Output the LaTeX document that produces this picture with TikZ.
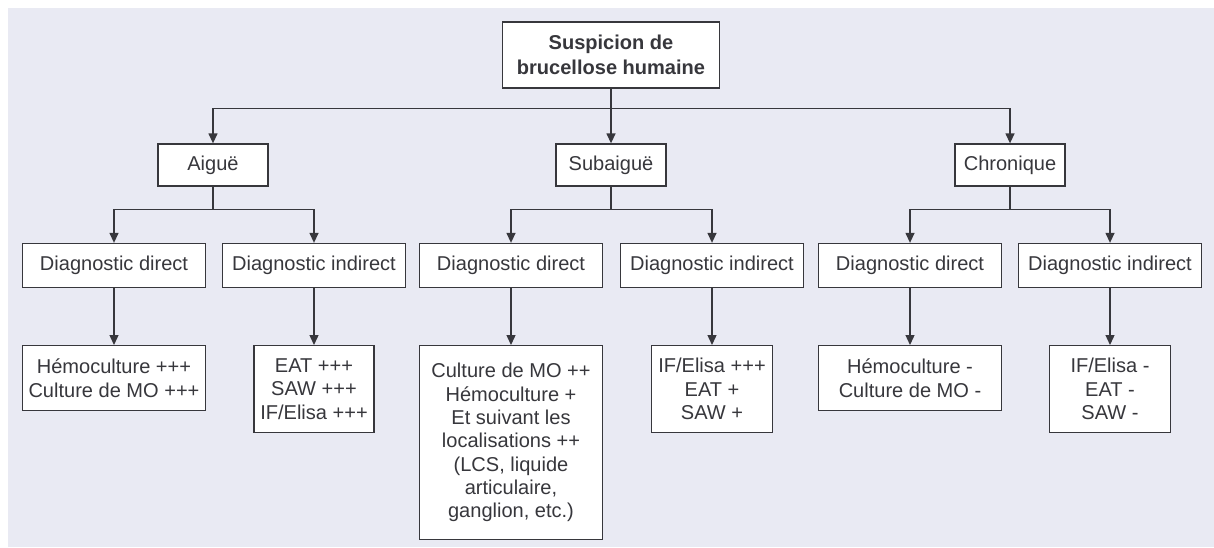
\documentclass[tikz,border=0pt]{standalone}
\usepackage{fontspec}
\setmainfont{Liberation Sans}
\usetikzlibrary{arrows.meta,positioning}
\definecolor{bgcol}{RGB}{233,234,243}
\definecolor{inkcol}{RGB}{55,55,60}

\begin{document}
\begin{tikzpicture}
  [
  x=0.2mm, y=-0.2mm,
  font=\fontsize{11.4}{13.3}\selectfont,
  line width=0.75pt, draw=inkcol, >={Triangle[length=2mm,width=1.8mm]},
  every node/.style={text=inkcol},
  box/.style={rectangle, draw=inkcol, fill=white, inner sep=0pt, align=center},
  rootbox/.style={box, minimum width=43.4mm, minimum height=13.2mm, font=\fontsize{11.4}{14}\selectfont\bfseries},
  formbox/.style={box, minimum width=22mm, minimum height=8.4mm},
  diagbox/.style={box, minimum width=36.6mm, minimum height=8.8mm},
  leafbox/.style={box, anchor=north, minimum height=13mm},
  link/.style={->, draw=inkcol},
  ]

  \useasboundingbox (0,0) rectangle (1214,547);
  \fill[bgcol] (8,8) rectangle (1214,547);

  % root and the three forms
  \node[rootbox] (root) at (611,55) {Suspicion de\\brucellose humaine};
  \node[formbox] (aigue) at (213,165) {Aiguë};
  \node[formbox] (subaigue) at (611,165) {Subaiguë};
  \node[formbox] (chronique) at (1010,165) {Chronique};

  % diagnostics
  \foreach \x/\name/\txt in {114/ad/direct, 314/ai/indirect, 511/sd/direct,
                             712/si/indirect, 910/cd/direct, 1110/ci/indirect} {
    \node[diagbox] (\name) at (\x,265.5) {Diagnostic \txt};
  }

  % results
  \node[leafbox, minimum width=36.6mm] (adr) at (114,345)
    {Hémoculture +++\\Culture de MO +++};
  \node[leafbox, minimum width=24mm, minimum height=17.4mm] (air) at (314,345)
    {EAT +++\\SAW +++\\IF/Elisa +++};
  \node[leafbox, minimum width=36.6mm, minimum height=38.8mm] (sdr) at (511,345)
    {Culture de MO ++\\Hémoculture +\\Et suivant les\\localisations ++\\(LCS, liquide\\articulaire,\\ganglion, etc.)};
  \node[leafbox, minimum width=24.2mm, minimum height=17.4mm] (sir) at (712,345)
    {IF/Elisa +++\\EAT +\\SAW +};
  \node[leafbox, minimum width=36.6mm] (cdr) at (910,345)
    {Hémoculture -\\Culture de MO -};
  \node[leafbox, minimum width=24.2mm, minimum height=17.4mm] (cir) at (1110,345)
    {IF/Elisa -\\EAT -\\SAW -};

  \draw[link] (root.south) -- ++(0,20) -| (aigue.north);
  \draw[link] (root.south) -- (subaigue.north);
  \draw[link] (root.south) -- ++(0,20) -| (chronique.north);

  \draw[link] (aigue.south) -- ++(0,23) -| (ad.north);
  \draw[link] (aigue.south) -- ++(0,23) -| (ai.north);
  \draw[link] (subaigue.south) -- ++(0,23) -| (sd.north);
  \draw[link] (subaigue.south) -- ++(0,23) -| (si.north);
  \draw[link] (chronique.south) -- ++(0,23) -| (cd.north);
  \draw[link] (chronique.south) -- ++(0,23) -| (ci.north);

  \draw[link] (ad) -- (adr);
  \draw[link] (ai) -- (air);
  \draw[link] (sd) -- (sdr);
  \draw[link] (si) -- (sir);
  \draw[link] (cd) -- (cdr);
  \draw[link] (ci) -- (cir);

\end{tikzpicture}
\end{document}
